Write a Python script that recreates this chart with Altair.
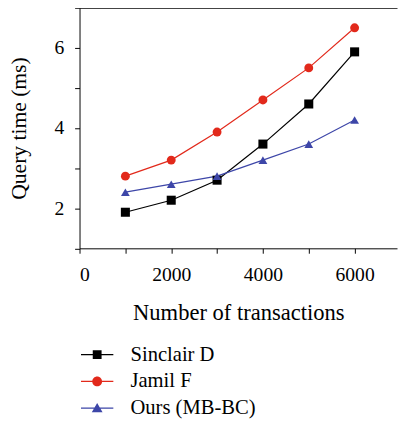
import altair as alt
import pandas as pd

# ---- data ----
transactions = [1000, 2000, 3000, 4000, 5000, 6000]
sinclair_d = [1.9, 2.2, 2.7, 3.6, 4.6, 5.9]
jamil_f = [2.8, 3.2, 3.9, 4.7, 5.5, 6.5]
ours_mbbc = [2.4, 2.6, 2.8, 3.2, 3.6, 4.2]
series_names = ["Sinclair D", "Jamil F", "Ours (MB-BC)"]
x_ticks = [0, 1000, 2000, 3000, 4000, 5000, 6000]
y_ticks = [1, 2, 3, 4, 5, 6, 7]

# ---- styling ----
colors = ["#000000", "#e2291b", "#3d46a8"]
marker_shapes = ["square", "circle", "triangle-up"]
marker_sizes = [85, 80, 110]
# legend glyphs: a short line with the marker on it (unit coords, scaled by symbol size)
legend_shapes = [
    "M-1.65,-0.065H1.65V0.065H-1.65Z M-0.45,-0.45H0.45V0.45H-0.45Z",
    "M-1.65,-0.065H1.65V0.065H-1.65Z M-0.5,0A0.5,0.5,0,1,1,0.5,0A0.5,0.5,0,1,1,-0.5,0Z",
    "M-1.65,-0.065H1.65V0.065H-1.65Z M0,-0.52L0.55,0.42L-0.55,0.42Z",
]
FONT = "Liberation Serif"

rows = []
for name, vals in zip(series_names, [sinclair_d, jamil_f, ours_mbbc]):
    for t, v in zip(transactions, vals):
        rows.append({"series": name, "transactions": t, "time": v})
df = pd.DataFrame(rows)

x_scale = alt.Scale(domain=[0, 6925], nice=False, zero=False)
y_scale = alt.Scale(domain=[1, 7], nice=False, zero=False)


def color_scale():
    return alt.Scale(domain=series_names, range=colors)


base = alt.Chart(df)

lines = base.mark_line(strokeWidth=1.2).encode(
    x=alt.X("transactions:Q", scale=x_scale,
            axis=alt.Axis(values=x_ticks, title="Number of transactions",
                          labelExpr="datum.value % 2000 == 0 ? datum.label : ''",
                          format="d", grid=False, tickSize=5, labelPadding=12,
                          titlePadding=18, labelFont=FONT, labelFontSize=20,
                          titleFont=FONT, titleFontSize=23)),
    y=alt.Y("time:Q", scale=y_scale,
            axis=alt.Axis(values=y_ticks, title="Query time (ms)",
                          labelExpr="datum.value % 2 == 0 ? datum.label : ''",
                          labelFlush=True,
                          grid=False, tickSize=5, labelPadding=11,
                          titlePadding=24, labelFont=FONT, labelFontSize=20,
                          titleFont=FONT, titleFontSize=22)),
    color=alt.Color("series:N", scale=color_scale(), legend=None),
    detail="series:N",
)

points = base.mark_point(filled=True, opacity=1).encode(
    x=alt.X("transactions:Q", scale=x_scale, axis=None),
    y=alt.Y("time:Q", scale=y_scale, axis=None),
    color=alt.Color("series:N", scale=color_scale(), legend=None),
    shape=alt.Shape("series:N", scale=alt.Scale(domain=series_names, range=marker_shapes),
                    legend=None),
    size=alt.Size("series:N", scale=alt.Scale(domain=series_names, range=marker_sizes),
                  legend=None),
)

legend_kw = dict(
    title=None, orient="none", legendX=7.5, legendY=343.5, direction="vertical",
    symbolSize=400, symbolStrokeWidth=0, symbolOpacity=1,
    labelFont=FONT, labelFontSize=21, labelColor="#000000",
    labelOffset=23.5, rowPadding=5.3, padding=0,
)

legend_layer = base.mark_point(filled=True, opacity=0).encode(
    x=alt.X("transactions:Q", scale=x_scale,
            axis=alt.Axis(orient="top", labels=False, ticks=False, title=None,
                          grid=False, domain=True, minExtent=0, maxExtent=0,
                          labelPadding=0, offset=0)),
    y=alt.Y("time:Q", scale=y_scale, axis=None),
    color=alt.Color("series:N", scale=color_scale(), legend=alt.Legend(**legend_kw)),
    shape=alt.Shape("series:N", scale=alt.Scale(domain=series_names, range=legend_shapes),
                    legend=alt.Legend(**legend_kw)),
)

chart = (
    alt.layer(lines, points, legend_layer)
    .resolve_scale(shape="independent", color="independent", size="independent")
    .resolve_axis(x="independent", y="independent")
    .properties(
        width=324, height=245.5,
        autosize=alt.AutoSizeParams(type="none"),
        padding={"left": 73, "top": -4.5, "right": 1, "bottom": 174},
    )
    .configure_view(stroke=None)
    .configure_axis(
        domainColor="#000000", tickColor="#000000", domainWidth=1, tickWidth=1,
        labelFont=FONT, labelFontSize=20, labelColor="#000000",
        titleFont=FONT, titleFontSize=23, titleFontWeight="normal", titleColor="#000000",
    )
)

chart.save("out.html", embed_options={"renderer": "svg", "actions": False})
